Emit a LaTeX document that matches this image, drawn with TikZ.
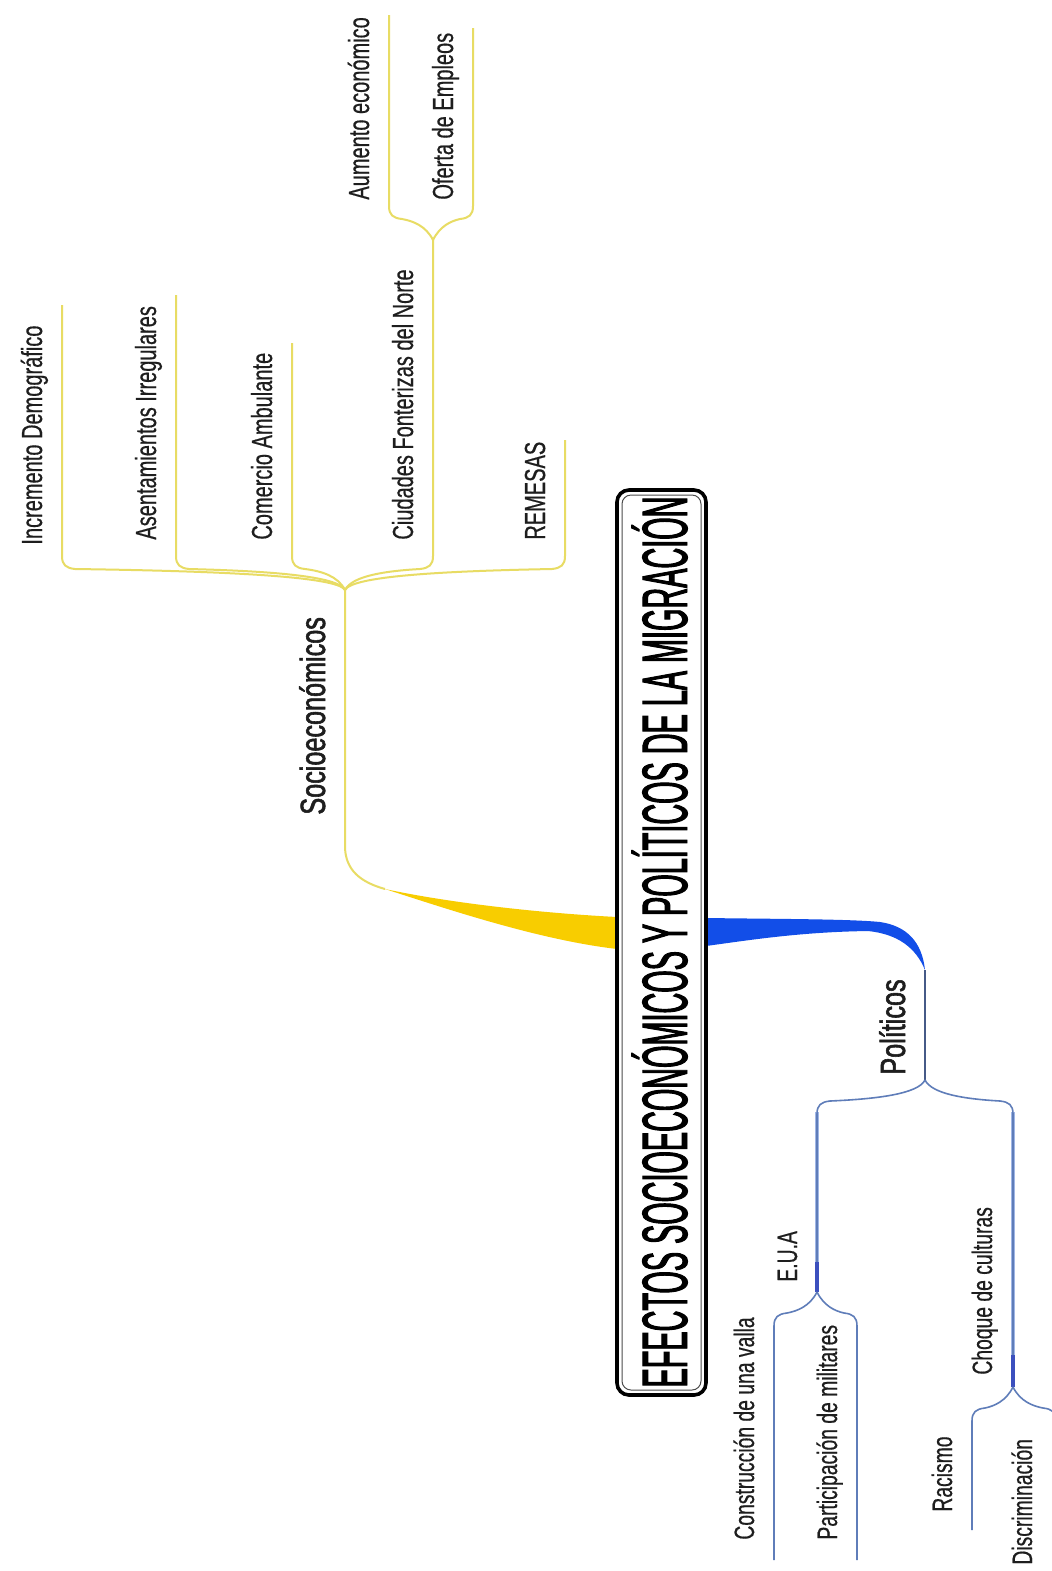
\documentclass[tikz,border=0pt]{standalone}
\usepackage{fontspec}
\setmainfont{Liberation Sans}[FakeStretch=0.69,FakeBold=0.5]
\newfontfamily\titlefont{Liberation Sans}[FakeStretch=0.45,FakeBold=1.5]
\newfontfamily\headfont{Liberation Sans}[FakeStretch=0.72,FakeBold=1.6]
\usetikzlibrary{calc}
\definecolor{ylwline}{RGB}{232,220,100}
\definecolor{ylwband}{RGB}{248,205,0}
\definecolor{bluband}{RGB}{18,78,232}
\definecolor{bluline}{RGB}{95,125,185}
\definecolor{bluglow}{RGB}{160,182,230}
\definecolor{bludark}{RGB}{60,80,190}
\definecolor{blustem}{RGB}{70,90,135}
\definecolor{txt}{RGB}{30,30,30}
% #1 style, #2 branch point, #3 child line end, #4 side (+1 child left of branch, -1 right), #5 dir (+1 up, -1 down)
\newcommand\mmbranch[5]{%
  \draw[#1] (#3) -- ($(#3|-#2)+(0,{-34*(#5)})$)
  .. controls ($(#3|-#2)+(0,{-25*(#5)})$) and ($(#3|-#2)+({4*(#4)},{-22*(#5)})$) .. ($(#3|-#2)+({13*(#4)},{-21*(#5)})$)
  .. controls ($($(#3|-#2)!0.55!(#2)$)+(0,{-19*(#5)})$) and ($(#2)+({-7*(#4)},{-14*(#5)})$) .. (#2);}
\begin{document}
\begin{tikzpicture}[x=0.5pt,y=-0.5pt,
  lbl/.style={rotate=90,anchor=base west,inner sep=0pt,text=txt,font=\fontsize{14.5}{16}\selectfont},
  lblp/.style={lbl,font=\fontsize{14}{16}\selectfont},
  head/.style={rotate=90,anchor=base west,inner sep=0pt,text=txt,font=\headfont\fontsize{17.5}{20}\selectfont},
  yl/.style={draw=ylwline,line width=1pt},
  bl/.style={draw=bluline,line width=0.8pt},
]
\useasboundingbox (0,0) rectangle (1052,1571);
\fill[white] (0,0) rectangle (1052,1571);

% named coordinates
\coordinate (Bs) at (345,590);
\coordinate (Bc) at (433,240);
\coordinate (Bp) at (925,1080);
\coordinate (Be) at (817,1292);
\coordinate (Bch) at (1013,1387);
\coordinate (incT) at (62,305);
\coordinate (aseT) at (176,295);
\coordinate (comT) at (292,343);
\coordinate (remT) at (565,440);
\coordinate (aumT) at (389,15);
\coordinate (ofeT) at (473,28);
\coordinate (conE) at (774,1560);
\coordinate (parE) at (857,1560);
\coordinate (racE) at (972,1530);
\coordinate (disE) at (1056,1571);
\coordinate (ytip) at (385,889);
\coordinate (btip) at (925,970);

% yellow main branch
\fill[ylwband] (617,917) .. controls (540,913) and (450,903) .. (ytip)
  .. controls (450,910) and (540,940) .. (617,949) -- cycle;
\draw[yl] (ytip) .. controls (360,882) and (346,870) .. (345,848) -- (Bs);

% blue main branch
\fill[bluband] (706,918) .. controls (780,919) and (850,919) .. (880,922)
  .. controls (907,926) and (922,942) .. (btip)
  .. controls (916,948) and (898,934) .. (868,931)
  .. controls (800,932) and (750,940) .. (706,946) -- cycle;
\draw[blustem,line width=0.8pt] (btip) -- (Bp);

% socioeconomic sub-branches
\mmbranch{yl}{Bs}{incT}{1}{1}
\mmbranch{yl}{Bs}{aseT}{1}{1}
\mmbranch{yl}{Bs}{comT}{1}{1}
\mmbranch{yl}{Bs}{Bc}{-1}{1}
\mmbranch{yl}{Bs}{remT}{-1}{1}
\mmbranch{yl}{Bc}{aumT}{1}{1}
\mmbranch{yl}{Bc}{ofeT}{-1}{1}

% political sub-branches
\draw[bluglow,line width=2pt] (817,1112) -- (Be);
\draw[bluglow,line width=2pt] (1013,1112) -- (Bch);
\mmbranch{bl}{Bp}{Be}{1}{-1}
\mmbranch{bl}{Bp}{Bch}{-1}{-1}
\draw[bludark,line width=1.8pt] (817,1262) -- (Be);
\draw[bludark,line width=1.8pt] (1013,1355) -- (Bch);
\mmbranch{bl}{Be}{conE}{1}{-1}
\mmbranch{bl}{Be}{parE}{-1}{-1}
\mmbranch{bl}{Bch}{racE}{1}{-1}
\mmbranch{bl}{Bch}{disE}{-1}{-1}

% central box
\draw[line width=1.8pt,rounded corners=6pt] (617,490) rectangle (706,1395);
\draw[line width=0.5pt,black!70,rounded corners=4.5pt] (622,495) rectangle (701,1390);
\node[rotate=90,anchor=base,inner sep=0pt,text=black,font=\titlefont\fontsize{32}{36}\selectfont] (title) at (687,942) {EFECTOS SOCIOECONÓMICOS Y POLÍTICOS DE LA MIGRACIÓN};

% labels
\node[head] (soc) at (325,815) {Socioeconómicos};
\node[lbl] (inc) at (42,545) {Incremento Demográfico};
\node[lbl] (ase) at (156,540) {Asentamientos Irregulares};
\node[lbl] (com) at (272,540) {Comercio Ambulante};
\node[lbl] (ciu) at (413,540) {Ciudades Fonterizas del Norte};
\node[lbl] (rem) at (545,540) {REMESAS};
\node[lbl] (aum) at (369,200) {Aumento económico};
\node[lbl] (ofe) at (453,200) {Oferta de Empleos};
\node[head] (pol) at (905,1075) {Políticos};
\node[lblp] (eua) at (797,1282) {E.U.A};
\node[lblp] (cho) at (992,1375) {Choque de culturas};
\node[lblp] (con) at (754,1540) {Construcción de una valla};
\node[lblp] (par) at (837,1540) {Participación de militares};
\node[lblp] (rac) at (952,1512) {Racismo};
\node[lblp] (dis) at (1032,1565) {Discriminación};
\end{tikzpicture}
\end{document}
